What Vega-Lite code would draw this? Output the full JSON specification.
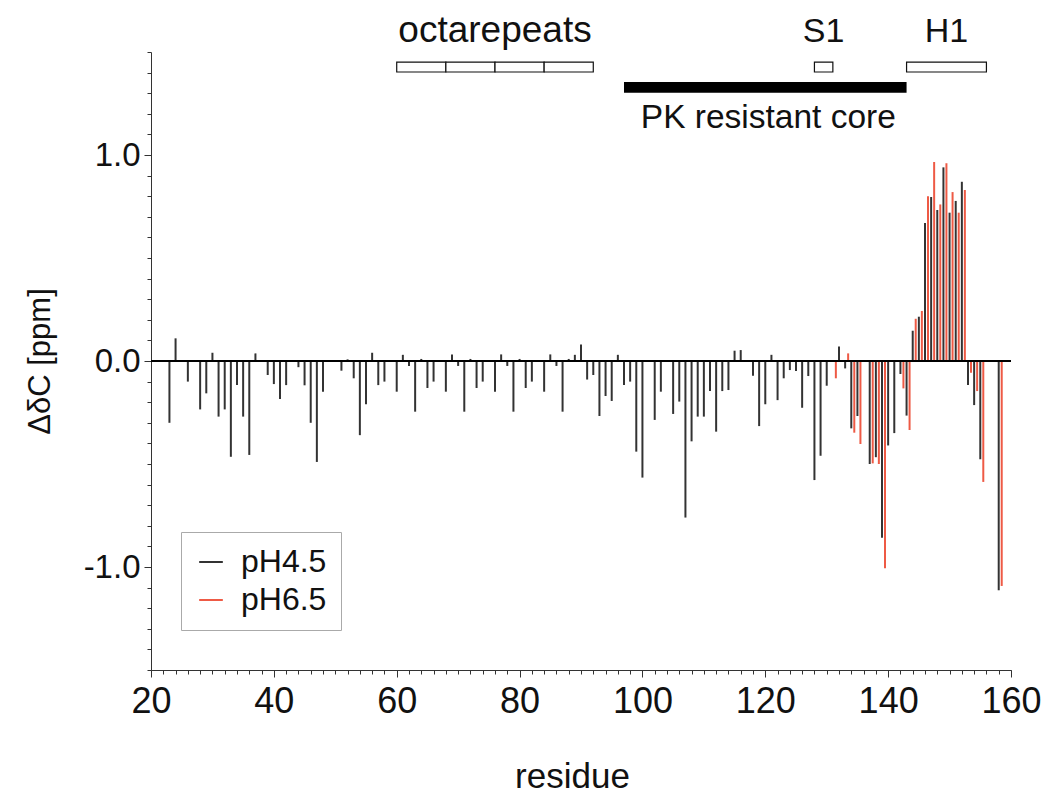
{
  "$schema": "https://vega.github.io/schema/vega-lite/v6.json",
  "autosize": {"type": "none"},
  "padding": {"left": 151, "top": 52, "right": 31, "bottom": 128},
  "width": 860,
  "height": 618,
  "background": "white",
  "config": {
    "view": {"stroke": null},
    "font": "Liberation Sans",
    "axis": {"grid": false, "domainColor": "#333333", "tickColor": "#333333", "labelColor": "#111111", "titleColor": "#111111", "labelFont": "Liberation Sans", "titleFont": "Liberation Sans", "titleFontWeight": "normal"}
  },
  "resolve": {"axis": {"x": "independent", "y": "independent"}},
  "datasets": {
    "shifts": [
      {"r": 23, "v": -0.30, "pH": "pH4.5"},
      {"r": 24, "v": 0.11, "pH": "pH4.5"},
      {"r": 26, "v": -0.10, "pH": "pH4.5"},
      {"r": 28, "v": -0.235, "pH": "pH4.5"},
      {"r": 29, "v": -0.157, "pH": "pH4.5"},
      {"r": 30, "v": 0.04, "pH": "pH4.5"},
      {"r": 31, "v": -0.27, "pH": "pH4.5"},
      {"r": 32, "v": -0.235, "pH": "pH4.5"},
      {"r": 33, "v": -0.465, "pH": "pH4.5"},
      {"r": 34, "v": -0.117, "pH": "pH4.5"},
      {"r": 35, "v": -0.27, "pH": "pH4.5"},
      {"r": 36, "v": -0.456, "pH": "pH4.5"},
      {"r": 37, "v": 0.037, "pH": "pH4.5"},
      {"r": 39, "v": -0.068, "pH": "pH4.5"},
      {"r": 40, "v": -0.112, "pH": "pH4.5"},
      {"r": 41, "v": -0.184, "pH": "pH4.5"},
      {"r": 42, "v": -0.117, "pH": "pH4.5"},
      {"r": 44, "v": -0.03, "pH": "pH4.5"},
      {"r": 45, "v": -0.118, "pH": "pH4.5"},
      {"r": 46, "v": -0.30, "pH": "pH4.5"},
      {"r": 47, "v": -0.49, "pH": "pH4.5"},
      {"r": 48, "v": -0.149, "pH": "pH4.5"},
      {"r": 51, "v": -0.047, "pH": "pH4.5"},
      {"r": 52, "v": 0.008, "pH": "pH4.5"},
      {"r": 53, "v": -0.084, "pH": "pH4.5"},
      {"r": 54, "v": -0.36, "pH": "pH4.5"},
      {"r": 55, "v": -0.21, "pH": "pH4.5"},
      {"r": 56, "v": 0.04, "pH": "pH4.5"},
      {"r": 57, "v": -0.117, "pH": "pH4.5"},
      {"r": 58, "v": -0.10, "pH": "pH4.5"},
      {"r": 60, "v": -0.149, "pH": "pH4.5"},
      {"r": 61, "v": 0.03, "pH": "pH4.5"},
      {"r": 62, "v": -0.024, "pH": "pH4.5"},
      {"r": 63, "v": -0.246, "pH": "pH4.5"},
      {"r": 64, "v": 0.01, "pH": "pH4.5"},
      {"r": 65, "v": -0.131, "pH": "pH4.5"},
      {"r": 66, "v": -0.10, "pH": "pH4.5"},
      {"r": 68, "v": -0.149, "pH": "pH4.5"},
      {"r": 69, "v": 0.032, "pH": "pH4.5"},
      {"r": 70, "v": -0.024, "pH": "pH4.5"},
      {"r": 71, "v": -0.246, "pH": "pH4.5"},
      {"r": 72, "v": 0.01, "pH": "pH4.5"},
      {"r": 73, "v": -0.131, "pH": "pH4.5"},
      {"r": 74, "v": -0.10, "pH": "pH4.5"},
      {"r": 76, "v": -0.149, "pH": "pH4.5"},
      {"r": 77, "v": 0.032, "pH": "pH4.5"},
      {"r": 78, "v": -0.024, "pH": "pH4.5"},
      {"r": 79, "v": -0.246, "pH": "pH4.5"},
      {"r": 80, "v": 0.01, "pH": "pH4.5"},
      {"r": 81, "v": -0.131, "pH": "pH4.5"},
      {"r": 82, "v": -0.10, "pH": "pH4.5"},
      {"r": 84, "v": -0.149, "pH": "pH4.5"},
      {"r": 85, "v": 0.032, "pH": "pH4.5"},
      {"r": 86, "v": -0.024, "pH": "pH4.5"},
      {"r": 87, "v": -0.246, "pH": "pH4.5"},
      {"r": 88, "v": 0.01, "pH": "pH4.5"},
      {"r": 89, "v": 0.03, "pH": "pH4.5"},
      {"r": 90, "v": 0.08, "pH": "pH4.5"},
      {"r": 91, "v": -0.09, "pH": "pH4.5"},
      {"r": 92, "v": -0.068, "pH": "pH4.5"},
      {"r": 93, "v": -0.267, "pH": "pH4.5"},
      {"r": 94, "v": -0.17, "pH": "pH4.5"},
      {"r": 95, "v": -0.194, "pH": "pH4.5"},
      {"r": 96, "v": 0.03, "pH": "pH4.5"},
      {"r": 97, "v": -0.117, "pH": "pH4.5"},
      {"r": 98, "v": -0.10, "pH": "pH4.5"},
      {"r": 99, "v": -0.44, "pH": "pH4.5"},
      {"r": 100, "v": -0.566, "pH": "pH4.5"},
      {"r": 102, "v": -0.286, "pH": "pH4.5"},
      {"r": 103, "v": -0.149, "pH": "pH4.5"},
      {"r": 105, "v": -0.257, "pH": "pH4.5"},
      {"r": 106, "v": -0.197, "pH": "pH4.5"},
      {"r": 107, "v": -0.76, "pH": "pH4.5"},
      {"r": 108, "v": -0.39, "pH": "pH4.5"},
      {"r": 109, "v": -0.27, "pH": "pH4.5"},
      {"r": 110, "v": -0.27, "pH": "pH4.5"},
      {"r": 111, "v": -0.146, "pH": "pH4.5"},
      {"r": 112, "v": -0.343, "pH": "pH4.5"},
      {"r": 113, "v": -0.146, "pH": "pH4.5"},
      {"r": 114, "v": -0.141, "pH": "pH4.5"},
      {"r": 115, "v": 0.05, "pH": "pH4.5"},
      {"r": 116, "v": 0.053, "pH": "pH4.5"},
      {"r": 118, "v": -0.071, "pH": "pH4.5"},
      {"r": 119, "v": -0.316, "pH": "pH4.5"},
      {"r": 120, "v": -0.21, "pH": "pH4.5"},
      {"r": 121, "v": 0.03, "pH": "pH4.5"},
      {"r": 122, "v": -0.19, "pH": "pH4.5"},
      {"r": 123, "v": -0.084, "pH": "pH4.5"},
      {"r": 124, "v": -0.044, "pH": "pH4.5"},
      {"r": 125, "v": -0.049, "pH": "pH4.5"},
      {"r": 126, "v": -0.227, "pH": "pH4.5"},
      {"r": 127, "v": -0.073, "pH": "pH4.5"},
      {"r": 128, "v": -0.578, "pH": "pH4.5"},
      {"r": 129, "v": -0.46, "pH": "pH4.5"},
      {"r": 130, "v": -0.12, "pH": "pH4.5"},
      {"r": 132, "v": 0.07, "pH": "pH4.5"},
      {"r": 133, "v": -0.036, "pH": "pH4.5"},
      {"r": 134, "v": -0.327, "pH": "pH4.5"},
      {"r": 135, "v": -0.267, "pH": "pH4.5"},
      {"r": 137, "v": -0.50, "pH": "pH4.5"},
      {"r": 138, "v": -0.467, "pH": "pH4.5"},
      {"r": 139, "v": -0.858, "pH": "pH4.5"},
      {"r": 140, "v": -0.41, "pH": "pH4.5"},
      {"r": 141, "v": -0.35, "pH": "pH4.5"},
      {"r": 142, "v": -0.063, "pH": "pH4.5"},
      {"r": 143, "v": -0.265, "pH": "pH4.5"},
      {"r": 144, "v": 0.147, "pH": "pH4.5"},
      {"r": 145, "v": 0.215, "pH": "pH4.5"},
      {"r": 146, "v": 0.67, "pH": "pH4.5"},
      {"r": 147, "v": 0.796, "pH": "pH4.5"},
      {"r": 148, "v": 0.733, "pH": "pH4.5"},
      {"r": 149, "v": 0.94, "pH": "pH4.5"},
      {"r": 150, "v": 0.72, "pH": "pH4.5"},
      {"r": 151, "v": 0.777, "pH": "pH4.5"},
      {"r": 152, "v": 0.87, "pH": "pH4.5"},
      {"r": 153, "v": -0.117, "pH": "pH4.5"},
      {"r": 154, "v": -0.214, "pH": "pH4.5"},
      {"r": 155, "v": -0.477, "pH": "pH4.5"},
      {"r": 158, "v": -1.113, "pH": "pH4.5"},
      {"r": 131, "v": -0.084, "pH": "pH6.5"},
      {"r": 133, "v": 0.037, "pH": "pH6.5"},
      {"r": 134, "v": -0.348, "pH": "pH6.5"},
      {"r": 135, "v": -0.403, "pH": "pH6.5"},
      {"r": 137, "v": -0.497, "pH": "pH6.5"},
      {"r": 138, "v": -0.50, "pH": "pH6.5"},
      {"r": 139, "v": -1.006, "pH": "pH6.5"},
      {"r": 142, "v": -0.133, "pH": "pH6.5"},
      {"r": 143, "v": -0.335, "pH": "pH6.5"},
      {"r": 144, "v": 0.205, "pH": "pH6.5"},
      {"r": 145, "v": 0.243, "pH": "pH6.5"},
      {"r": 146, "v": 0.80, "pH": "pH6.5"},
      {"r": 147, "v": 0.966, "pH": "pH6.5"},
      {"r": 148, "v": 0.76, "pH": "pH6.5"},
      {"r": 149, "v": 0.96, "pH": "pH6.5"},
      {"r": 150, "v": 0.82, "pH": "pH6.5"},
      {"r": 151, "v": 0.72, "pH": "pH6.5"},
      {"r": 152, "v": 0.83, "pH": "pH6.5"},
      {"r": 153, "v": -0.057, "pH": "pH6.5"},
      {"r": 154, "v": -0.146, "pH": "pH6.5"},
      {"r": 155, "v": -0.587, "pH": "pH6.5"},
      {"r": 158, "v": -1.092, "pH": "pH6.5"}
    ],
    "boxes": [
      {"start": 60, "end": 68, "region": "octarepeat 1"},
      {"start": 68, "end": 76, "region": "octarepeat 2"},
      {"start": 76, "end": 84, "region": "octarepeat 3"},
      {"start": 84, "end": 92, "region": "octarepeat 4"},
      {"start": 128, "end": 131, "region": "S1"},
      {"start": 143, "end": 156, "region": "H1"}
    ],
    "core": [
      {"start": 97, "end": 143, "region": "PK resistant core"}
    ],
    "octlabel": [
      {"x": 76, "label": "octarepeats"}
    ],
    "toplabels": [
      {"x": 129.5, "label": "S1"},
      {"x": 149.5, "label": "H1"}
    ],
    "corelabel": [
      {"x": 120.5, "label": "PK resistant core"}
    ]
  },
  "layer": [
    {
      "data": {"name": "shifts"},
      "transform": [{"filter": "datum.pH === 'pH4.5'"}],
      "mark": {"type": "rule", "strokeWidth": 2},
      "encoding": {
        "x": {
          "field": "r", "type": "quantitative", "title": "residue",
          "scale": {"domain": [20, 160], "nice": false, "zero": false},
          "axis": {
            "orient": "bottom",
            "values": [20, 40, 60, 80, 100, 120, 140, 160],
            "tickSize": 7,
            "labelFontSize": 36,
            "labelPadding": 7,
            "labelOverlap": false,
            "labelFlush": false,
            "titleFontSize": 35,
            "titleX": 421,
            "titleY": 106,
            "titleBaseline": "middle"
          }
        },
        "y": {
          "field": "v", "type": "quantitative", "title": "ΔδC [ppm]",
          "scale": {"domain": [-1.5, 1.5], "nice": false, "zero": false},
          "axis": {
            "orient": "left",
            "values": [-1, 0, 1],
            "labelExpr": "datum.value > 0.5 ? '1.0' : (datum.value < -0.5 ? '-1.0' : '0.0')",
            "tickSize": 7,
            "labelFontSize": 33,
            "labelPadding": 4,
            "labelOverlap": false,
            "labelFlush": false,
            "titleFontSize": 31,
            "titleAngle": 270,
            "titleX": -111,
            "titleY": 309,
            "titleAlign": "center",
            "titleBaseline": "middle"
          }
        },
        "y2": {"datum": 0},
        "color": {
          "field": "pH", "type": "nominal",
          "scale": {"domain": ["pH4.5", "pH6.5"], "range": ["#333333", "#ee5a45"]},
          "legend": {
            "orient": "none", "legendX": 30, "legendY": 480, "title": null,
            "strokeColor": "#aaaaaa", "fillColor": "white", "padding": 14,
            "labelFontSize": 32, "labelFont": "Liberation Sans", "labelColor": "#111111",
            "symbolType": "stroke", "symbolStrokeWidth": 2, "symbolSize": 560,
            "rowPadding": 6, "labelOffset": 14
          }
        }
      }
    },
    {
      "data": {"name": "shifts"},
      "transform": [{"filter": "datum.pH === 'pH6.5'"}],
      "mark": {"type": "rule", "strokeWidth": 2, "xOffset": 3},
      "encoding": {
        "x": {
          "field": "r", "type": "quantitative", "title": null,
          "scale": {"domain": [20, 160], "nice": false, "zero": false},
          "axis": {
            "orient": "bottom",
            "values": [20,22,24,26,28,30,32,34,36,38,40,42,44,46,48,50,52,54,56,58,60,62,64,66,68,70,72,74,76,78,80,82,84,86,88,90,92,94,96,98,100,102,104,106,108,110,112,114,116,118,120,122,124,126,128,130,132,134,136,138,140,142,144,146,148,150,152,154,156,158,160],
            "tickSize": 4,
            "labels": false,
            "domain": false,
            "title": null
          }
        },
        "y": {"field": "v", "type": "quantitative", "title": null, "scale": {"domain": [-1.5, 1.5], "nice": false, "zero": false}, "axis": null},
        "y2": {"datum": 0},
        "color": {"field": "pH", "type": "nominal", "scale": {"domain": ["pH4.5", "pH6.5"], "range": ["#333333", "#ee5a45"]}}
      }
    },
    {
      "data": {"name": "shifts"},
      "mark": {"type": "rule", "color": "#000000", "strokeWidth": 1.3},
      "encoding": {
        "y": {
          "datum": 0, "type": "quantitative", "title": null,
          "scale": {"domain": [-1.5, 1.5], "nice": false, "zero": false},
          "axis": {
            "orient": "left",
            "values": [-1.5,-1.4,-1.3,-1.2,-1.1,-1.0,-0.9,-0.8,-0.7,-0.6,-0.5,-0.4,-0.3,-0.2,-0.1,0,0.1,0.2,0.3,0.4,0.5,0.6,0.7,0.8,0.9,1.0,1.1,1.2,1.3,1.4,1.5],
            "tickSize": 4,
            "labels": false,
            "domain": false,
            "title": null
          }
        }
      }
    },
    {
      "data": {"name": "boxes"},
      "mark": {"type": "rect", "fill": "white", "stroke": "#111111", "strokeWidth": 1.2, "clip": false},
      "encoding": {
        "x": {"field": "start", "type": "quantitative", "title": null, "scale": {"domain": [20, 160], "nice": false, "zero": false}, "axis": null},
        "x2": {"field": "end"},
        "y": {"datum": 1.451, "type": "quantitative", "title": null, "scale": {"domain": [-1.5, 1.5], "nice": false, "zero": false}, "axis": null},
        "y2": {"datum": 1.403}
      }
    },
    {
      "data": {"name": "core"},
      "mark": {"type": "rect", "fill": "#000000", "clip": false},
      "encoding": {
        "x": {"field": "start", "type": "quantitative", "title": null, "scale": {"domain": [20, 160], "nice": false, "zero": false}, "axis": null},
        "x2": {"field": "end"},
        "y": {"datum": 1.354, "type": "quantitative", "title": null, "scale": {"domain": [-1.5, 1.5], "nice": false, "zero": false}, "axis": null},
        "y2": {"datum": 1.302}
      }
    },
    {
      "data": {"name": "octlabel"},
      "mark": {"type": "text", "fontSize": 37, "font": "Liberation Sans", "color": "#111111", "align": "center", "baseline": "alphabetic", "clip": false},
      "encoding": {
        "x": {"field": "x", "type": "quantitative", "title": null, "scale": {"domain": [20, 160], "nice": false, "zero": false}, "axis": null},
        "y": {"datum": 1.548, "type": "quantitative", "title": null, "scale": {"domain": [-1.5, 1.5], "nice": false, "zero": false}, "axis": null},
        "text": {"field": "label"}
      }
    },
    {
      "data": {"name": "toplabels"},
      "mark": {"type": "text", "fontSize": 34, "font": "Liberation Sans", "color": "#111111", "align": "center", "baseline": "alphabetic", "clip": false},
      "encoding": {
        "x": {"field": "x", "type": "quantitative", "title": null, "scale": {"domain": [20, 160], "nice": false, "zero": false}, "axis": null},
        "y": {"datum": 1.548, "type": "quantitative", "title": null, "scale": {"domain": [-1.5, 1.5], "nice": false, "zero": false}, "axis": null},
        "text": {"field": "label"}
      }
    },
    {
      "data": {"name": "corelabel"},
      "mark": {"type": "text", "fontSize": 33.5, "font": "Liberation Sans", "color": "#111111", "align": "center", "baseline": "alphabetic", "clip": false},
      "encoding": {
        "x": {"field": "x", "type": "quantitative", "title": null, "scale": {"domain": [20, 160], "nice": false, "zero": false}, "axis": null},
        "y": {"datum": 1.131, "type": "quantitative", "title": null, "scale": {"domain": [-1.5, 1.5], "nice": false, "zero": false}, "axis": null},
        "text": {"field": "label"}
      }
    }
  ]
}
